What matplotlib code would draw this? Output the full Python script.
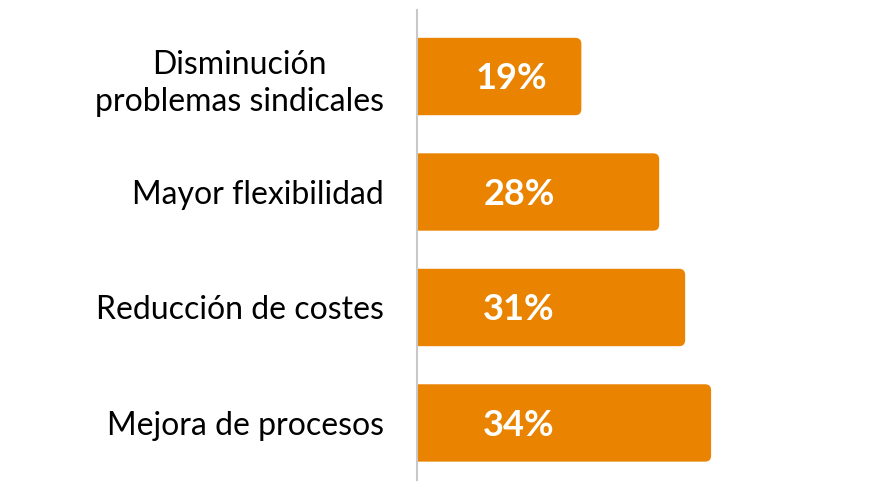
import matplotlib.pyplot as plt
from matplotlib.patches import FancyBboxPatch

# data, top to bottom
categories = ['Disminución\nproblemas sindicales', 'Mayor flexibilidad',
              'Reducción de costes', 'Mejora de procesos']
values = [19, 28, 31, 34]
value_labels = ['19%', '28%', '31%', '34%']

orange = '#E98300'
font = ['Lato', 'DejaVu Sans']

fig = plt.figure(figsize=(8.75, 5), dpi=100)
ax = fig.add_axes([417 / 875, 0.04, 458 / 875, 0.94])

pos = list(range(len(categories)))
bars = ax.barh(pos, values, height=0.67, color=orange)

# swap the plain bars for rounded ones (left corners hidden past the axis)
px_x = 8.65     # pixels per percent
px_y = 115.5    # pixels per category step
for b in bars:
    x0, y0 = b.get_x(), b.get_y()
    w, h = b.get_width(), b.get_height()
    b.set_visible(False)
    patch = FancyBboxPatch((x0 - 1, y0), w + 1, h,
                           boxstyle='round,pad=0,rounding_size=0.7',
                           mutation_aspect=px_x / px_y,
                           fc=orange, ec='none', zorder=2)
    ax.add_patch(patch)

# value labels inside bars
label_x = [10.9, 11.8, 11.7, 11.8]
for p, lx, txt in zip(pos, label_x, value_labels):
    ax.text(lx, p + 0.02, txt, ha='center', va='center', color='white',
            fontsize=26, fontweight='bold', family=font, zorder=3)

ax.set_xlim(0, 458 / px_x)
ax.set_ylim(3.494, -0.576)
ax.set_yticks(pos)
ax.set_yticklabels(categories, family=font, fontsize=23,
                   multialignment='center', linespacing=1.3)
ax.tick_params(axis='y', length=0, pad=24)
ax.set_xticks([])

for s in ['top', 'right', 'bottom']:
    ax.spines[s].set_visible(False)
ax.spines['left'].set_color('#C8C8C8')
ax.spines['left'].set_linewidth(1.5)
ax.spines['left'].set_zorder(4)

fig.savefig('out.png', dpi=100)
